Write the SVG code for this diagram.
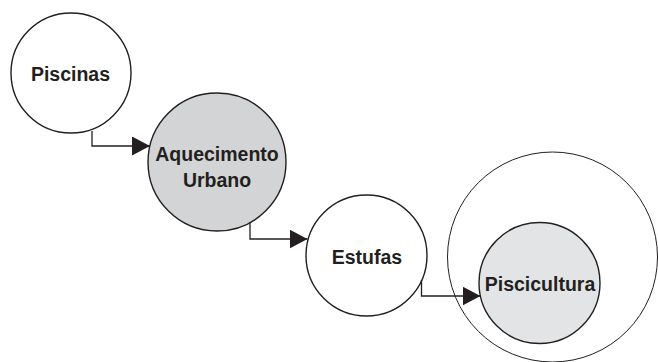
<svg xmlns="http://www.w3.org/2000/svg" width="658" height="362" viewBox="0 0 658 362">
<defs>
<style>
.node{stroke:#231f20;stroke-width:1.4}
.lbl{font-family:"Liberation Sans",Arial,sans-serif;font-weight:bold;font-size:19.5px;fill:#231f20;text-anchor:middle}
.conn{fill:none;stroke:#231f20;stroke-width:1.3}
</style>
<marker id="arr" viewBox="0 0 18 19" refX="18" refY="9.5" markerWidth="18" markerHeight="19" markerUnits="userSpaceOnUse" orient="auto">
<path d="M0,0 L18,9.5 L0,19 Z" fill="#231f20"/>
</marker>
</defs>
<rect width="658" height="362" fill="#fff"/>
<g id="piscicultura-ring">
<circle cx="552.5" cy="257" r="105" fill="none" stroke="#231f20" stroke-width="1"/>
</g>
<g id="piscinas">
<circle class="node" cx="71" cy="73" r="60" fill="#fff"/>
<text class="lbl" x="70.5" y="80.5">Piscinas</text>
</g>
<g id="aquecimento">
<circle class="node" cx="217" cy="162" r="69" fill="#d3d4d6"/>
<text class="lbl" x="217" y="160.5">Aquecimento</text>
<text class="lbl" x="217" y="186.5">Urbano</text>
</g>
<g id="estufas">
<circle class="node" cx="366.5" cy="255.5" r="60.5" fill="#fff"/>
<text class="lbl" x="367" y="264">Estufas</text>
</g>
<g id="piscicultura">
<circle class="node" cx="539.5" cy="283" r="60.5" fill="#e3e4e6"/>
<text class="lbl" x="540" y="290.5">Piscicultura</text>
</g>
<g id="connectors">
<path class="conn" d="M92,131 V146 H150" marker-end="url(#arr)"/>
<path class="conn" d="M250,222 V239 H307.5" marker-end="url(#arr)"/>
<path class="conn" d="M421.5,280 V296 H480.5" marker-end="url(#arr)"/>
</g>
</svg>
